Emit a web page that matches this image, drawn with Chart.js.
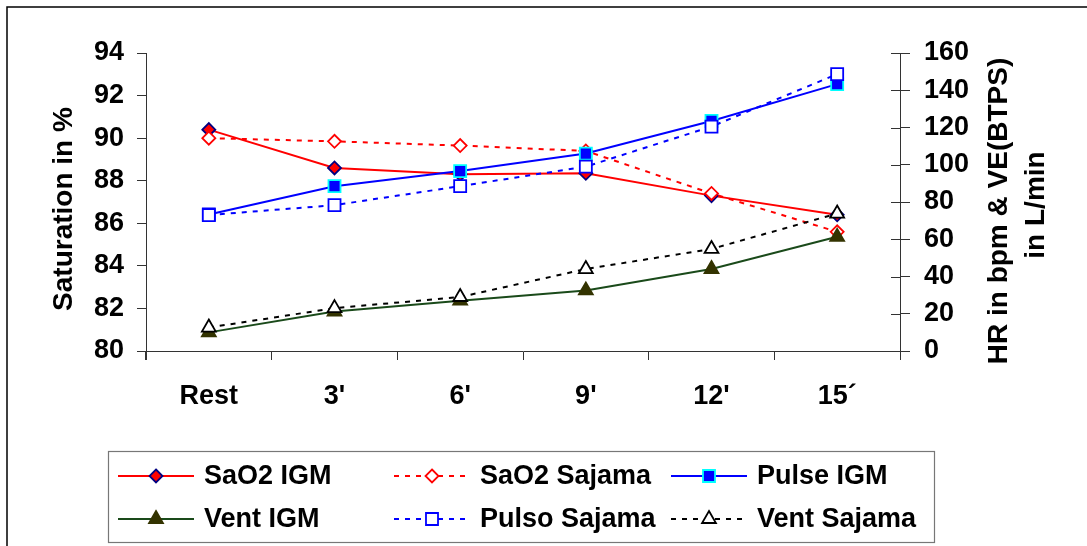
<!DOCTYPE html>
<html>
<head>
<meta charset="utf-8">
<script src="https://cdn.jsdelivr.net/npm/chart.js@4.4.1/dist/chart.umd.min.js"></script>
<style>
html,body{margin:0;padding:0;background:#fff;}
canvas{display:block;}
</style>
</head>
<body>
<canvas id="chart" width="1087" height="546"></canvas>
<script>
//Categories
var etapas = ['Rest', "3'", "6'", "9'", "12'", '15\u00B4'];
//Saturation (left axis, %)
var sao2Igm    = [90.4, 88.6, 88.3, 88.35, 87.3, 86.4];
var sao2Sajama = [90.0, 89.85, 89.65, 89.4, 87.4, 85.6];
//HR and ventilation (right axis)
var pulseIgm    = [73.3, 88.5, 96.6, 106, 123.5, 143.3];
var pulsoSajama = [73, 78.3, 88.5, 99, 120.5, 148.7];
var ventIgm     = [10, 21.2, 27, 32.5, 44, 61.3];
var ventSajama  = [12.6, 23, 29, 44, 54.8, 73.8];
//Tick labels
var ticksSat = [80, 82, 84, 86, 88, 90, 92, 94];
var ticksHr  = [0, 20, 40, 60, 80, 100, 120, 140, 160];

var FONT = '"Liberation Sans", Arial, sans-serif';
Chart.defaults.font.family = FONT;
Chart.defaults.font.weight = 'bold';
Chart.defaults.font.size = 27;
Chart.defaults.color = '#000';

var dotted = [5, 6];

//Draw a marker the same way the chart does
function drawMarker(ctx, style, x, y, r, fill, stroke, lw) {
  ctx.save();
  ctx.beginPath();
  if (style === 'rectRot') {
    ctx.moveTo(x, y - r); ctx.lineTo(x + r, y); ctx.lineTo(x, y + r); ctx.lineTo(x - r, y);
  } else if (style === 'rect') {
    var s = Math.SQRT1_2 * r;
    ctx.rect(x - s, y - s, 2 * s, 2 * s);
  } else {
    var a = 0;
    ctx.moveTo(x + Math.sin(a) * r, y - Math.cos(a) * r);
    a += Math.PI * 2 / 3;
    ctx.lineTo(x + Math.sin(a) * r, y - Math.cos(a) * r);
    a += Math.PI * 2 / 3;
    ctx.lineTo(x + Math.sin(a) * r, y - Math.cos(a) * r);
  }
  ctx.closePath();
  ctx.fillStyle = fill; ctx.fill();
  ctx.lineWidth = lw; ctx.strokeStyle = stroke; ctx.stroke();
  ctx.restore();
}

//Frame, axis titles, inner ticks and legend
var decoPlugin = {
  id: 'deco',
  beforeDraw: function(chart) {
    var ctx = chart.ctx;
    ctx.save();
    ctx.fillStyle = '#fff';
    ctx.fillRect(0, 0, chart.width, chart.height);
    ctx.strokeStyle = '#000';
    ctx.lineWidth = 1.5;
    ctx.beginPath();
    ctx.moveTo(7, chart.height); ctx.lineTo(7, 7); ctx.lineTo(chart.width, 7);
    ctx.stroke();
    ctx.restore();
  },
  afterDraw: function(chart) {
    var ctx = chart.ctx;
    var area = chart.chartArea;
    var y1 = chart.scales.y1;
    ctx.save();
    //right axis ticks cross the axis
    ctx.strokeStyle = '#333';
    ctx.lineWidth = 1;
    ctx.beginPath();
    y1.ticks.forEach(function(t, i) {
      var py = Math.round(y1.getPixelForTick(i)) + 0.5;
      ctx.moveTo(area.right - 9, py); ctx.lineTo(area.right, py);
    });
    //axis lines reach the x ticks
    ctx.moveTo(area.left + 0.5, area.bottom); ctx.lineTo(area.left + 0.5, area.bottom + 9);
    ctx.moveTo(area.right + 0.5, area.bottom); ctx.lineTo(area.right + 0.5, area.bottom + 9);
    ctx.stroke();

    //axis titles
    ctx.fillStyle = '#000';
    ctx.font = 'bold 28px ' + FONT;
    ctx.textAlign = 'center';
    ctx.textBaseline = 'alphabetic';
    var titles = [['Saturation in %', 72, 209], ['HR in bpm & VE(BTPS)', 1007, 211], ['in L/min', 1044, 205]];
    titles.forEach(function(t) {
      ctx.save();
      ctx.translate(t[1], t[2]);
      ctx.rotate(-Math.PI / 2);
      ctx.fillText(t[0], 0, 0);
      ctx.restore();
    });

    //legend box
    ctx.strokeStyle = '#777';
    ctx.lineWidth = 1.2;
    ctx.strokeRect(108.5, 451.5, 826, 91);
    var cols = [118, 394, 671];
    var rows = [476, 519];
    var sample = 76;
    ctx.font = 'bold 27px ' + FONT;
    ctx.textAlign = 'left';
    ctx.textBaseline = 'middle';
    chart.data.datasets.forEach(function(ds, i) {
      var cx = cols[i % 3], cy = rows[Math.floor(i / 3)];
      var borde = Array.isArray(ds.pointBorderColor) ? ds.pointBorderColor[1] : ds.pointBorderColor;
      ctx.save();
      ctx.strokeStyle = ds.borderColor;
      ctx.lineWidth = ds.borderWidth;
      ctx.setLineDash(ds.borderDash || []);
      ctx.beginPath();
      ctx.moveTo(cx, cy); ctx.lineTo(cx + sample, cy);
      ctx.stroke();
      ctx.restore();
      drawMarker(ctx, ds.pointStyle, cx + sample / 2, cy, ds.pointRadius,
        ds.pointBackgroundColor, borde, ds.pointBorderWidth);
      ctx.fillStyle = '#000';
      ctx.fillText(ds.label, cx + sample + 10, cy + 1);
    });
    ctx.restore();
  }
};

function serie(label, data, axis, color, dash, style, r, fill, stroke, order) {
  return {
    label: label, data: data, yAxisID: axis,
    borderColor: color, borderWidth: 2, borderDash: dash,
    pointStyle: style, pointRadius: r, pointHoverRadius: r,
    pointBackgroundColor: fill, pointBorderColor: stroke, pointBorderWidth: 1.8,
    fill: false, tension: 0, clip: false, order: order
  };
}

var config = {
  type: 'line',
  data: {
    labels: etapas,
    datasets: [
      serie('SaO2 IGM', sao2Igm, 'y', '#ff0000', [], 'rectRot', 6.5, '#ff0000', '#000080', 5),
      serie('SaO2 Sajama', sao2Sajama, 'y', '#ff0000', dotted, 'rectRot', 6.5, '#ffffff', '#ff0000', 4),
      serie('Pulse IGM', pulseIgm, 'y1', '#0000ff', [], 'rect', 8.5, '#0000ff',
        ['#0000ff', '#00ffff', '#00ffff', '#00ffff', '#00ffff', '#00ffff'], 3),
      serie('Vent IGM', ventIgm, 'y1', '#1a4a1a', [], 'triangle', 8, '#333300', '#333300', 2),
      serie('Pulso Sajama', pulsoSajama, 'y1', '#0000ff', dotted, 'rect', 8.5, '#ffffff', '#0000ff', 1),
      serie('Vent Sajama', ventSajama, 'y1', '#000000', dotted, 'triangle', 8, '#ffffff', '#000000', 0)
    ]
  },
  options: {
    responsive: false,
    animation: false,
    devicePixelRatio: 1,
    layout: { padding: { left: 0, right: 0, top: 53, bottom: 0 } },
    plugins: { legend: { display: false }, tooltip: { enabled: false } },
    scales: {
      x: {
        offset: true,
        grid: { offset: true, drawOnChartArea: false, drawTicks: true, tickLength: 9, color: '#333' },
        border: { display: true, color: '#333', width: 1 },
        ticks: { padding: 20, maxRotation: 0, font: { size: 27, weight: 'bold' } },
        afterFit: function(s) { s.height = 195; }
      },
      y: {
        position: 'left',
        min: ticksSat[0], max: ticksSat[ticksSat.length - 1],
        afterBuildTicks: function(s) { s.ticks = ticksSat.map(function(v) { return { value: v }; }); },
        grid: { drawOnChartArea: false, drawTicks: true, tickLength: 9, color: '#333' },
        border: { display: true, color: '#333', width: 1 },
        ticks: { padding: 13, font: { size: 27, weight: 'bold' } },
        afterFit: function(s) { s.width = 146; }
      },
      y1: {
        position: 'right',
        min: ticksHr[0], max: ticksHr[ticksHr.length - 1],
        afterBuildTicks: function(s) { s.ticks = ticksHr.map(function(v) { return { value: v }; }); },
        grid: { drawOnChartArea: false, drawTicks: true, tickLength: 10, color: '#333' },
        border: { display: true, color: '#333', width: 1 },
        ticks: { padding: 14, font: { size: 27, weight: 'bold' } },
        afterFit: function(s) { s.width = 187; }
      }
    }
  },
  plugins: [decoPlugin]
};

var ctx = document.getElementById('chart').getContext('2d');
window.grafico = new Chart(ctx, config);
</script>
</body>
</html>
